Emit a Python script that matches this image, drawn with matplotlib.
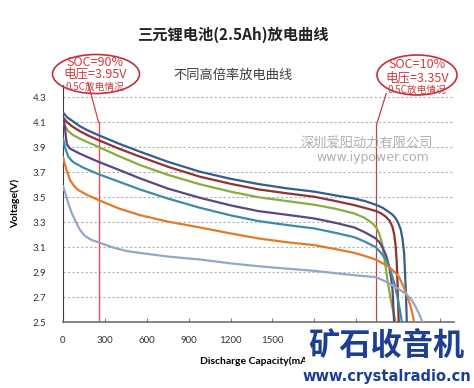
import matplotlib
matplotlib.use("Agg")
import matplotlib.pyplot as plt
from matplotlib.patches import Ellipse

# discharge curves, capacity (mAh) vs voltage (V)
blue_x = [0, 15, 30, 70, 120, 180, 250, 400, 550, 750, 980, 1200, 1400, 1600, 1800, 1950, 2086,
          2160, 2240, 2290, 2336, 2360, 2383, 2402, 2419, 2432, 2443, 2455, 2462]
blue_y = [4.18, 4.16, 4.14, 4.11, 4.07, 4.035, 4.00, 3.93, 3.866, 3.785, 3.705, 3.648, 3.606, 3.572,
          3.545, 3.515, 3.49, 3.47, 3.44, 3.415, 3.38, 3.36, 3.33, 3.29, 3.24, 3.16, 3.05, 2.75, 2.5]

red_x = [0, 15, 30, 70, 120, 180, 250, 400, 550, 750, 980, 1200, 1400, 1600, 1800, 1950, 2086,
         2160, 2240, 2280, 2312, 2340, 2360, 2372, 2383, 2390, 2395, 2404]
red_y = [4.14, 4.12, 4.10, 4.065, 4.03, 3.995, 3.96, 3.89, 3.826, 3.745, 3.665, 3.608, 3.563, 3.532,
         3.504, 3.47, 3.437, 3.415, 3.39, 3.37, 3.343, 3.31, 3.26, 3.20, 3.10, 2.98, 2.83, 2.5]

green_x = [0, 15, 38, 70, 120, 180, 250, 400, 550, 750, 980, 1200, 1400, 1600, 1800, 1950, 2086,
           2160, 2217, 2245, 2264, 2285, 2300, 2312, 2324, 2338, 2352, 2382]
green_y = [4.11, 4.07, 4.03, 4.00, 3.97, 3.94, 3.906, 3.83, 3.759, 3.68, 3.604, 3.545, 3.50, 3.47,
           3.44, 3.408, 3.37, 3.335, 3.29, 3.255, 3.21, 3.13, 3.02, 2.93, 2.83, 2.74, 2.65, 2.5]

purple_x = [0, 8, 15, 22, 28, 50, 120, 250, 400, 550, 750, 980, 1200, 1400, 1600, 1800, 1950, 2086,
            2160, 2240, 2265, 2288, 2315, 2336, 2350, 2360, 2371]
purple_y = [4.13, 4.10, 4.05, 3.97, 3.925, 3.89, 3.85, 3.786, 3.72, 3.652, 3.57, 3.496, 3.435, 3.389,
            3.36, 3.33, 3.295, 3.258, 3.22, 3.17, 3.14, 3.10, 3.03, 2.94, 2.85, 2.755, 2.5]

teal_x = [0, 10, 20, 38, 60, 86, 150, 250, 400, 550, 750, 980, 1200, 1400, 1600, 1800, 1950, 2086,
          2160, 2240, 2280, 2312, 2340, 2360, 2380, 2395, 2412, 2427]
teal_y = [3.97, 3.92, 3.88, 3.826, 3.795, 3.773, 3.735, 3.687, 3.625, 3.563, 3.49, 3.416, 3.355, 3.309,
          3.278, 3.25, 3.215, 3.18, 3.145, 3.10, 3.05, 3.00, 2.93, 2.86, 2.78, 2.70, 2.6, 2.5]

orange_x = [0, 12, 25, 50, 80, 110, 170, 250, 400, 550, 750, 980, 1200, 1400, 1600, 1800, 1950, 2086,
            2160, 2240, 2290, 2336, 2375, 2407, 2440, 2467, 2488, 2502, 2514]
orange_y = [3.82, 3.77, 3.72, 3.638, 3.59, 3.558, 3.52, 3.48, 3.41, 3.357, 3.305, 3.258, 3.21, 3.17,
            3.14, 3.116, 3.085, 3.054, 3.03, 3.00, 2.97, 2.94, 2.90, 2.86, 2.78, 2.70, 2.63, 2.567, 2.5]

gray_x = [0, 20, 38, 60, 86, 120, 157, 200, 252, 350, 450, 550, 750, 980, 1200, 1400, 1600, 1800,
          2086, 2240, 2300, 2360, 2410, 2455, 2495, 2526, 2552, 2574]
gray_y = [3.59, 3.52, 3.45, 3.38, 3.317, 3.24, 3.19, 3.16, 3.14, 3.10, 3.07, 3.054, 3.025, 3.001,
          2.97, 2.947, 2.928, 2.91, 2.875, 2.86, 2.83, 2.794, 2.76, 2.727, 2.68, 2.62, 2.56, 2.5]

xticks = [0, 300, 600, 900, 1200, 1500, 1800, 2100, 2400, 2700]
xticklabels = ['0', '300', '600', '900', '1200', '1500', '', '', '', '']  # rest hidden under the watermark
yticks = [2.5, 2.7, 2.9, 3.1, 3.3, 3.5, 3.7, 3.9, 4.1, 4.3]
soc_marks = [255, 2245]   # 10% / 90% of capacity

cjk = ['Noto Sans CJK SC', 'DejaVu Sans']

W, H = 474, 388
fig = plt.figure(figsize=(4.74, 3.88), dpi=100)
ax = fig.add_axes([63/W, 1-322/H, (454-63)/W, (322-85)/H])

curves = [
    (blue_x, blue_y, '#365d8f'),
    (red_x, red_y, '#8e3232'),
    (green_x, green_y, '#86ad3e'),
    (purple_x, purple_y, '#5b4680'),
    (teal_x, teal_y, '#3a8da5'),
    (orange_x, orange_y, '#e5782a'),
    (gray_x, gray_y, '#94a7c9'),
]
for x, y, c in curves:
    ax.plot(x, y, color=c, lw=1.6, solid_capstyle='round', solid_joinstyle='round', zorder=3)

ax.set_xlim(0, 2800)
ax.set_ylim(2.5, 4.4)
ax.set_xticks(xticks)
ax.set_yticks(yticks)
ax.set_xticklabels(xticklabels, fontsize=7, family='Lato', color='#333333')
ax.set_yticklabels(["%.1f" % t for t in yticks], fontsize=7, family='Lato', color='#333333')
ax.tick_params(axis='x', direction='in', length=3, color='#808080', pad=10)
ax.tick_params(axis='y', length=0, pad=12)
for t in yticks[1:]:
    ax.axhline(t, color='#b0b0b0', lw=0.8, ls=(0, (2, 2)), zorder=1)
ax.spines['top'].set_visible(False)
ax.spines['right'].set_visible(False)
ax.spines['left'].set_color('#404040')
ax.spines['bottom'].set_color('#707070')
ax.spines['bottom'].set_linewidth(1.2)

ax.set_xlabel("Discharge Capacity(mAh)", fontsize=7.5, family='Lato', fontweight='bold', labelpad=8)
ax.set_ylabel("Voltage(V)", fontsize=7.5, family='Lato', fontweight='bold', labelpad=9)

# SOC marker lines and connectors to the callouts
ax.plot([soc_marks[0], soc_marks[0]], [2.5, 4.1], color='#ea4a5a', lw=1.0, zorder=2)
ax.plot([179, soc_marks[0]], [4.42, 4.1], color='#d04050', lw=0.9, clip_on=False)
ax.plot([soc_marks[1], soc_marks[1]], [2.5, 4.08], color='#b04848', lw=0.9, zorder=2)
ax.plot([2314, soc_marks[1]], [4.33, 4.08], color='#c04050', lw=0.9, clip_on=False)

def fx(px):
    return px / W

def fy(py):
    return 1 - py / H

red_txt = '#d03c3c'
for cx, cy, w, h in [(96, 74, 87, 39), (417, 75, 80, 40)]:
    e = Ellipse((fx(cx), fy(cy)), w / W, h / H, transform=fig.transFigure,
                fill=False, edgecolor='#c03040', lw=1.2)
    fig.add_artist(e)

fig.text(fx(95), fy(63), "SOC=90%", color=red_txt, fontsize=9, family=cjk, ha='center', va='center')
fig.text(fx(95), fy(74.5), "电压=3.95V", color=red_txt, fontsize=9, family=cjk, ha='center', va='center')
fig.text(fx(95), fy(87), "0.5C放电情况", color=red_txt, fontsize=7, family=cjk, ha='center', va='center')
fig.text(fx(417), fy(65), "SOC=10%", color=red_txt, fontsize=9, family=cjk, ha='center', va='center')
fig.text(fx(417), fy(78), "电压=3.35V", color=red_txt, fontsize=9, family=cjk, ha='center', va='center')
fig.text(fx(417), fy(90), "0.5C放电情况", color=red_txt, fontsize=7, family=cjk, ha='center', va='center')

fig.text(fx(233), fy(35), "三元锂电池(2.5Ah)放电曲线", fontsize=11, family=cjk,
         fontweight='bold', ha='center', va='center', color='#222222')
fig.text(fx(233), fy(75), "不同高倍率放电曲线", fontsize=9.5, family=cjk,
         ha='center', va='center', color='#404040')

# watermarks
fig.text(fx(367), fy(143), "深圳爱阳动力有限公司", fontsize=9.5, family=cjk,
         ha='center', va='center', color='#b0b0b0')
fig.text(fx(373), fy(157), "www.iypower.com", fontsize=9, family='DejaVu Sans',
         ha='center', va='center', color='#b0b0b0')
fig.text(fx(386), fy(347), "矿石收音机", fontsize=22.5, family=cjk, fontweight='heavy',
         ha='center', va='center', color='#1c3f94', zorder=10,
         bbox=dict(facecolor='white', edgecolor='none', pad=2))
fig.text(fx(387), fy(376), "www.crystalradio.cn", fontsize=10.5, family='DejaVu Sans',
         fontweight='bold', ha='center', va='center', color='#1c3f94', zorder=10)

fig.savefig("out.png", dpi=100)
